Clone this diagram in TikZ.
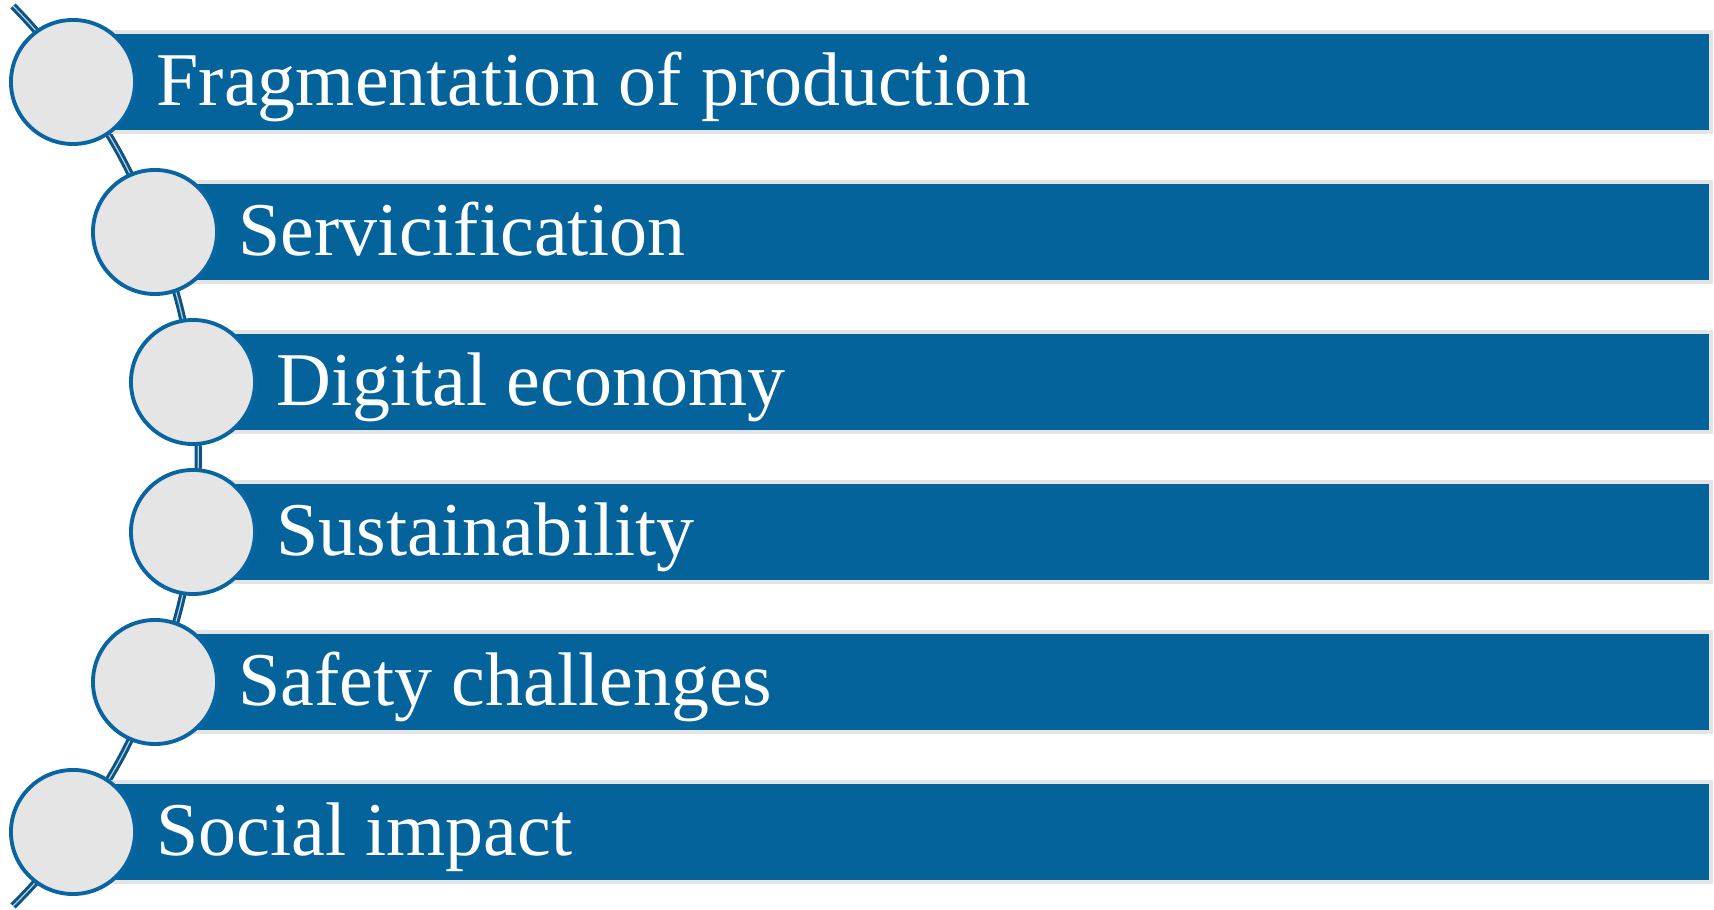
\documentclass[tikz,border=0pt]{standalone}
\usepackage{fontspec}
\setmainfont{Liberation Serif}
\usetikzlibrary{backgrounds}

\definecolor{barblue}{HTML}{03639A}
\definecolor{barrim}{HTML}{E4E4E4}
\definecolor{ringblue}{HTML}{0865A1}
\definecolor{discgray}{HTML}{E5E5E5}
\definecolor{linkblue}{HTML}{0B5486}
\definecolor{linkcore}{HTML}{B9CCDC}

\tikzset{
  bar/.style={rectangle, fill=barblue, draw=barrim, line width=1pt,
    minimum height=0.995cm, inner sep=0pt},
  disc/.style={circle, fill=discgray, draw=ringblue, line width=1.1pt,
    minimum size=1.24cm, inner sep=0pt},
  caption/.style={text=white, inner sep=0pt,
    font=\fontsize{21.6pt}{26pt}\selectfont},
  link/.style={draw=linkblue, line width=0.85pt, double=linkcore,
    double distance=0.35pt}
}

\begin{document}
\begin{tikzpicture}[x=0.01cm, y=0.01cm]
  \useasboundingbox (0,0) rectangle (1714,-910);

  % rows: bar behind, disc in front, caption on the bar
  \foreach \x/\y/\txt [count=\i] in {73/82/Fragmentation of production,
      155/232/Servicification, 193/382/Digital economy,
      193/532/Sustainability, 155/682/Safety challenges,
      73/832/Social impact}{
    \node[bar, anchor=west, minimum width={(1709-\x)*0.01cm}] (b\i) at (\x,-\y) {};
    \node[disc] (c\i) at (\x,-\y) {};
    \node[caption, anchor=base west] (t\i) at (\x+83,-\y-24) {\txt};
  }

  % the arc that threads the discs
  \begin{scope}[on background layer]
    \coordinate (top) at (13,-6);
    \coordinate (bot) at (13,-906);
    \draw[link] (top) to[bend left=6] (c1.center)
      to[bend left=7.5] (c2.center) to[bend left=7.2] (c3.center)
      to[bend left=6.9] (c4.center) to[bend left=7.2] (c5.center)
      to[bend left=7.5] (c6.center) to[bend left=6] (bot);
  \end{scope}
\end{tikzpicture}
\end{document}
